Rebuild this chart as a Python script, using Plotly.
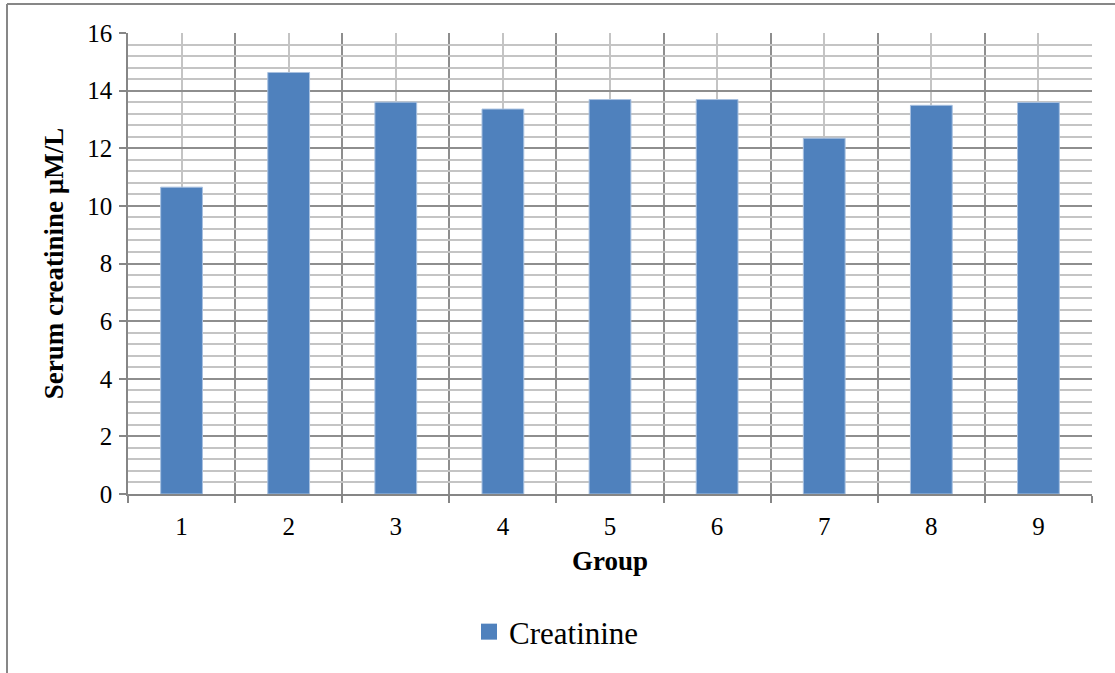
import plotly.graph_objects as go

groups = [1, 2, 3, 4, 5, 6, 7, 8, 9]
group_labels = ["1", "2", "3", "4", "5", "6", "7", "8", "9"]
creatinine = [10.65, 14.63, 13.6, 13.36, 13.69, 13.69, 12.35, 13.49, 13.59]

y_ticks = [0, 2, 4, 6, 8, 10, 12, 14, 16]

BAR_BLUE = "#4F81BD"

# plot-area geometry in pixels (used to place the frame lines)
W, H = 1115, 673
L, R, T, B = 128, 23, 33, 179
pw, ph = W - L - R, H - T - B

def px_x(x):
    return (x - L) / pw

def px_y(y):
    return (H - B - y) / ph

fig = go.Figure()
fig.add_trace(go.Bar(
    x=groups,
    y=creatinine,
    name="Creatinine",
    showlegend=False,
    marker=dict(color=BAR_BLUE, line=dict(color="#A7C0E0", width=1)),
    width=0.39,
))
# legend entry with a larger square swatch
fig.add_trace(go.Scatter(
    x=[None], y=[None],
    mode="markers",
    name="Creatinine",
    marker=dict(symbol="square", size=16, color=BAR_BLUE),
    showlegend=True,
))

serif = "Liberation Serif, Times New Roman, serif"

fig.update_layout(
    width=W, height=H,
    margin=dict(l=L, r=R, t=T, b=B),
    paper_bgcolor="white",
    plot_bgcolor="white",
    font=dict(family=serif, color="black", size=25),
    showlegend=True,
    legend=dict(
        orientation="h",
        x=px_x(469), xanchor="left",
        y=px_y(632), yanchor="middle",
        font=dict(family=serif, size=31, color="black"),
        itemwidth=30,
        bgcolor="rgba(0,0,0,0)",
    ),
    bargap=0.6,
    xaxis=dict(
        range=[0.5, 9.5],
        tickmode="array",
        tickvals=groups,
        ticktext=group_labels,
        ticks="",
        showgrid=True,
        gridcolor="#C4C4C4",
        gridwidth=2,
        showline=True,
        linecolor="#868686",
        linewidth=1.5,
        zeroline=False,
        tickfont=dict(size=25),
        ticklabelstandoff=9,
        title=dict(text="<b>Group</b>", font=dict(size=27), standoff=12),
        minor=dict(
            tickmode="array",
            tickvals=[g + 0.5 for g in [0] + groups],
            showgrid=True,
            gridcolor="#8E8E8E",
            gridwidth=2,
            ticks="outside",
            ticklen=7,
            tickcolor="#868686",
            tickwidth=1.5,
        ),
        layer="below traces",
    ),
    yaxis=dict(
        range=[0, 16],
        tickmode="array",
        tickvals=y_ticks,
        showgrid=True,
        gridcolor="#8E8E8E",
        gridwidth=2,
        showline=True,
        linecolor="#868686",
        linewidth=1.5,
        zeroline=False,
        ticks="outside",
        ticklen=7,
        tickcolor="#868686",
        tickwidth=1.5,
        tickfont=dict(size=25),
        ticklabelstandoff=2,
        title=dict(text="<b>Serum creatinine µM/L</b>", font=dict(size=27), standoff=16),
        minor=dict(
            dtick=0.4,
            tick0=0,
            showgrid=True,
            gridcolor="#C4C4C4",
            gridwidth=2,
            ticks="",
        ),
        layer="below traces",
    ),
    shapes=[
        dict(type="line", xref="paper", yref="paper",
             x0=px_x(7), x1=px_x(7), y0=px_y(H + 5), y1=px_y(4),
             line=dict(color="#878787", width=2)),
        dict(type="line", xref="paper", yref="paper",
             x0=px_x(7), x1=px_x(W + 5), y0=px_y(4), y1=px_y(4),
             line=dict(color="#878787", width=2)),
    ],
)

fig.write_html("out.html")
